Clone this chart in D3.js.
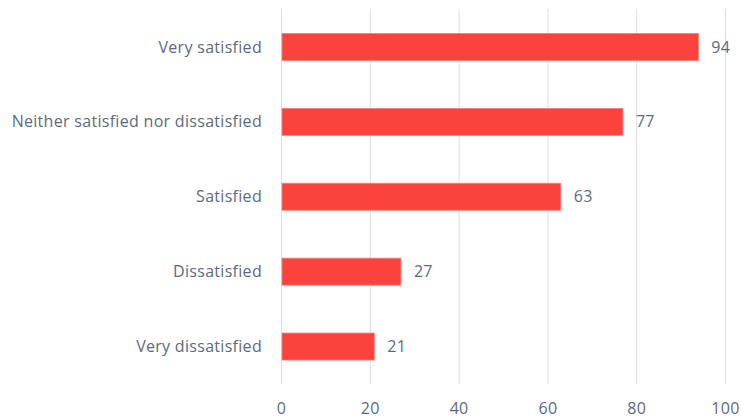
<!DOCTYPE html>
<html><head><meta charset="utf-8">
<script src="https://cdn.jsdelivr.net/npm/d3@7"></script>
<style>html,body{margin:0;padding:0;background:#fff;}svg{display:block;}</style>
</head><body>
<svg id="chart" width="741" height="419"></svg>
<script>
const categories = ["Very satisfied","Neither satisfied nor dissatisfied","Satisfied","Dissatisfied","Very dissatisfied"];
const values = [94, 77, 63, 27, 21];
const tickValues = [0, 20, 40, 60, 80, 100];

const svg = d3.select("#chart");
const font = "'Open Sans', sans-serif";
const textColor = "#5b6b7c";
const x = d3.scaleLinear().domain([0, 100]).range([281, 725]);
const y = d3.scaleBand().domain(categories).range([9.5, 384]).paddingInner(0.64).paddingOuter(0.32);

svg.append("g").selectAll("line").data(tickValues).join("line")
  .attr("x1", d => x(d) + 0.5).attr("x2", d => x(d) + 0.5)
  .attr("y1", 9).attr("y2", 384)
  .attr("stroke", "#d9dfe7").attr("stroke-width", 1);

svg.append("g").selectAll("rect").data(values).join("rect")
  .attr("x", x(0) + 1)
  .attr("y", (d, i) => y(categories[i]))
  .attr("width", d => x(d) - x(0) - 1)
  .attr("height", y.bandwidth())
  .attr("fill", "#fb423c")
  .attr("stroke", "#fd7a74").attr("stroke-width", 0.8);

svg.append("g").selectAll("text").data(values).join("text")
  .attr("x", d => x(d) + 13)
  .attr("y", (d, i) => y(categories[i]) + y.bandwidth() / 2)
  .attr("dy", "0.35em")
  .attr("font-family", font).attr("font-size", 16).attr("letter-spacing", 0.3).attr("fill", textColor)
  .text(d => d);

svg.append("g").selectAll("text").data(categories).join("text")
  .attr("x", 262)
  .attr("y", d => y(d) + y.bandwidth() / 2)
  .attr("dy", "0.35em")
  .attr("text-anchor", "end")
  .attr("font-family", font).attr("font-size", 16).attr("letter-spacing", 0.3).attr("fill", textColor)
  .text(d => d);

const xAxis = d3.axisBottom(x).tickValues(tickValues).tickSize(0).tickPadding(0);
const ax = svg.append("g").attr("transform", "translate(0,408)").call(xAxis);
ax.select(".domain").remove();
ax.selectAll("text").attr("font-family", font).attr("font-size", 16).attr("letter-spacing", 0.3).attr("fill", textColor).attr("dy", "0.35em");
</script>
</body></html>
